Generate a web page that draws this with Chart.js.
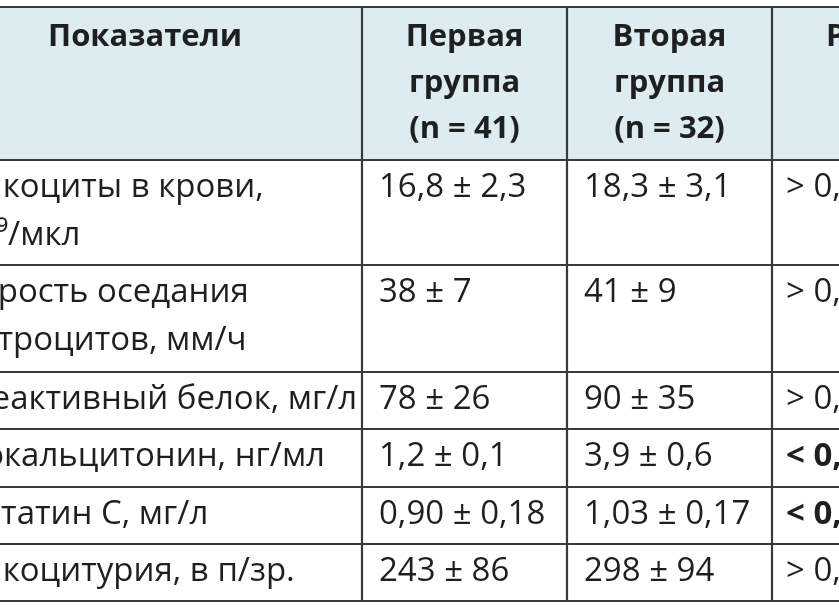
<!DOCTYPE html>
<html>
<head>
<meta charset="utf-8">
<script src="https://cdn.jsdelivr.net/npm/chart.js@4/dist/chart.umd.min.js"></script>
<style>
  html, body { margin: 0; padding: 0; background: #fff; }
  #wrap { width: 839px; height: 609px; }
</style>
</head>
<body>
<div id="wrap"><canvas id="tbl"></canvas></div>
<script>
// table content
const headers = [
  ['Показатели'],
  ['Первая', 'группа', '(n = 41)'],
  ['Вторая', 'группа', '(n = 32)'],
  ['Р'],
];
const indicators = [
  ['Лейкоциты в крови,', '×10⁹/мкл'],
  ['Скорость оседания', 'эритроцитов, мм/ч'],
  ['С-реактивный белок, мг/л'],
  ['Прокальцитонин, нг/мл'],
  ['Цистатин С, мг/л'],
  ['Лейкоцитурия, в п/зр.'],
];
const firstGroup = ['16,8 ± 2,3', '38 ± 7', '78 ± 26', '1,2 ± 0,1', '0,90 ± 0,18', '243 ± 86'];
const secondGroup = ['18,3 ± 3,1', '41 ± 9', '90 ± 35', '3,9 ± 0,6', '1,03 ± 0,17', '298 ± 94'];
const pValues = ['> 0,05', '> 0,05', '> 0,05', '< 0,001', '< 0,001', '> 0,05'];
const pBold = [false, false, false, true, true, false];

// layout (in page pixels, mapped through the chart's linear scales)
const colEdges = [-70, 362, 567, 772, 960];
const rowEdges = [7, 160, 265, 372, 429, 487, 544, 601];
const textX = [-60, 379, 584, 786];

const tablePlugin = {
  id: 'tablePlugin',
  beforeDatasetsDraw(chart) {
    const { ctx, scales: { x, y } } = chart;
    const px = v => x.getPixelForValue(v);
    const py = v => y.getPixelForValue(v);
    ctx.save();
    // header background
    ctx.fillStyle = '#dcecf1';
    ctx.fillRect(px(colEdges[0]), py(rowEdges[0]), px(colEdges[4]) - px(colEdges[0]), py(rowEdges[1]) - py(rowEdges[0]));
    // grid
    ctx.strokeStyle = '#3a3a3a';
    ctx.lineWidth = 2.2;
    rowEdges.forEach(r => {
      ctx.beginPath(); ctx.moveTo(px(colEdges[0]), py(r)); ctx.lineTo(px(colEdges[4]), py(r)); ctx.stroke();
    });
    colEdges.slice(1, 4).forEach(c => {
      ctx.beginPath(); ctx.moveTo(px(c), py(rowEdges[0])); ctx.lineTo(px(c), py(rowEdges[rowEdges.length - 1])); ctx.stroke();
    });

    ctx.fillStyle = '#1f1f1f';
    ctx.textBaseline = 'middle';
    // headers
    ctx.font = 'bold 31px "Open Sans", sans-serif';
    headers.forEach((lines, i) => {
      lines.forEach((t, j) => {
        if (i === 3) {
          ctx.textAlign = 'left';
          ctx.fillText(t, px(826), py(rowEdges[0] + 30 + j * 46));
        } else {
          ctx.textAlign = 'center';
          const cx = i === 0 ? 145 : (colEdges[i] + colEdges[i + 1]) / 2;
          ctx.fillText(t, px(cx), py(rowEdges[0] + 30 + j * 46));
        }
      });
    });
    // body
    ctx.textAlign = 'left';
    const cols = [indicators, firstGroup, secondGroup, pValues];
    for (let r = 0; r < indicators.length; r++) {
      const top = rowEdges[r + 1];
      cols.forEach((col, c) => {
        const lines = Array.isArray(col[r]) ? col[r] : [col[r]];
        ctx.font = (c === 3 && pBold[r] ? 'bold ' : '') + '33px "Open Sans", sans-serif';
        lines.forEach((t, j) => {
          ctx.fillText(t, px(textX[c]), py(top + 28 + j * 48));
        });
      });
    }
    ctx.restore();
  },
};

new Chart(document.getElementById('tbl'), {
  type: 'scatter',
  data: { datasets: [{ data: [], pointRadius: 0 }] },
  options: {
    responsive: true,
    maintainAspectRatio: false,
    animation: false,
    layout: { padding: 0 },
    plugins: { legend: { display: false }, tooltip: { enabled: false } },
    scales: {
      x: { type: 'linear', min: 0, max: 839, display: false },
      y: { type: 'linear', min: 0, max: 609, reverse: true, display: false },
    },
  },
  plugins: [tablePlugin],
});
</script>
</body>
</html>
